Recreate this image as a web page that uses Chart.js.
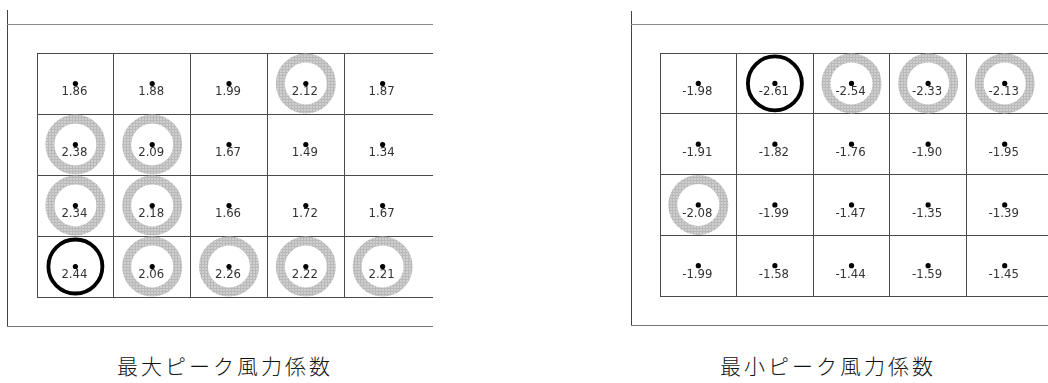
<!DOCTYPE html>
<html>
<head>
<meta charset="utf-8">
<script src="https://cdn.jsdelivr.net/npm/chart.js@4/dist/chart.umd.min.js"></script>
<style>
  html, body { margin: 0; padding: 0; background: #fff; }
  body { width: 1048px; height: 383px; position: relative; overflow: hidden; }
  .wrap { position: absolute; top: 0; height: 340px; }
  .ln { position: absolute; }
  .title { position: absolute; top: 351px; font-family: "Noto Sans CJK JP", sans-serif; font-weight: 300; font-size: 21px; letter-spacing: 3px; color: #111; white-space: nowrap; transform: translateX(-50%); line-height: 28px; }
</style>
</head>
<body>
<!-- left frame -->
<div class="ln" style="left:7px;top:10px;width:1px;height:317px;background:#444"></div>
<div class="ln" style="left:7px;top:24px;width:426px;height:1px;background:#8a8a8a"></div>
<div class="ln" style="left:7px;top:326px;width:426px;height:1px;background:#777"></div>
<!-- right frame -->
<div class="ln" style="left:631px;top:11px;width:1px;height:315px;background:#444"></div>
<div class="ln" style="left:631px;top:24px;width:417px;height:1px;background:#8a8a8a"></div>
<div class="ln" style="left:631px;top:325px;width:417px;height:1px;background:#777"></div>

<div class="wrap" style="left:0;width:440px"><canvas id="cMax"></canvas></div>
<div class="wrap" style="left:600px;width:448px"><canvas id="cMin"></canvas></div>

<div class="title" id="tMax" style="left:225px"></div>
<div class="title" id="tMin" style="left:828px"></div>

<script>
// ---- data ----
const titleMax = "最大ピーク風力係数";
const titleMin = "最小ピーク風力係数";

// rows listed top to bottom, columns left to right
const maxPeak = [
  [1.86, 1.88, 1.99, 2.12, 1.87],
  [2.38, 2.09, 1.67, 1.49, 1.34],
  [2.34, 2.18, 1.66, 1.72, 1.67],
  [2.44, 2.06, 2.26, 2.22, 2.21]
];
const minPeak = [
  [-1.98, -2.61, -2.54, -2.33, -2.13],
  [-1.91, -1.82, -1.76, -1.90, -1.95],
  [-2.08, -1.99, -1.47, -1.35, -1.39],
  [-1.99, -1.58, -1.44, -1.59, -1.45]
];
// highlighted cells [row, col]
const maxGrayRings = [[0,3],[1,0],[1,1],[2,0],[2,1],[3,1],[3,2],[3,3],[3,4]];
const maxBlackRings = [[3,0]];
const minGrayRings = [[0,2],[0,3],[0,4],[2,0]];
const minBlackRings = [[0,1]];

document.getElementById('tMax').textContent = titleMax;
document.getElementById('tMin').textContent = titleMin;

// ring pattern (fine gray hatch)
function makePattern() {
  const c = document.createElement('canvas');
  c.width = 3; c.height = 3;
  const g = c.getContext('2d');
  g.fillStyle = '#cfcfcf'; g.fillRect(0,0,3,3);
  g.fillStyle = '#b9b9b9'; g.fillRect(0,0,3,1); g.fillRect(0,0,1,3);
  return g.createPattern(c, 'repeat');
}
const ringPattern = makePattern();

function cellPoints(table) {
  const pts = [];
  table.forEach((row, r) => row.forEach((v, c) => pts.push({x: c + 0.5, y: r + 0.5, v: v})));
  return pts;
}
function ringPoints(list, table) {
  return list.map(([r, c]) => ({x: c + 0.5, y: r + 0.5, v: table[r][c]}));
}

const labelPlugin = {
  id: 'cellLabels',
  afterDatasetsDraw(chart) {
    const ctx = chart.ctx;
    const meta = chart.getDatasetMeta(0);
    const data = chart.data.datasets[0].data;
    ctx.save();
    ctx.font = '13px "Liberation Sans Narrow", "DejaVu Sans Condensed", "Arial Narrow", sans-serif';
    ctx.fillStyle = '#333';
    ctx.textAlign = 'center';
    ctx.textBaseline = 'top';
    meta.data.forEach((el, i) => {
      ctx.fillText(data[i].v.toFixed(2), el.x - 1, el.y + 2);
    });
    ctx.restore();
  }
};

function gridColor(ctx) {
  return Number.isInteger(ctx.tick.value) ? '#4a4a4a' : 'rgba(0,0,0,0)';
}

function build(id, table, gray, black, xMax, pad) {
  new Chart(document.getElementById(id), {
    type: 'scatter',
    data: {
      datasets: [
        { data: cellPoints(table), pointRadius: 2.6, pointBackgroundColor: '#000', pointBorderWidth: 0, clip: false },
        { data: ringPoints(black, table), pointRadius: 27, pointBackgroundColor: 'rgba(0,0,0,0)', pointBorderColor: '#000', pointBorderWidth: 3.8, clip: false },
        { data: ringPoints(gray, table), pointRadius: 25.5, pointBackgroundColor: 'rgba(0,0,0,0)', pointBorderColor: ringPattern, pointBorderWidth: 9, clip: false }
      ]
    },
    options: {
      responsive: true,
      maintainAspectRatio: false,
      animation: false,
      events: [],
      layout: { padding: pad, autoPadding: false },
      plugins: { legend: { display: false }, tooltip: { enabled: false }, title: { display: false } },
      scales: {
        x: {
          type: 'linear', min: 0, max: xMax,
          ticks: { display: false, stepSize: 1 },
          grid: { color: gridColor, drawTicks: false, lineWidth: 1 },
          border: { display: false }
        },
        y: {
          type: 'linear', min: 0, max: 4, reverse: true,
          ticks: { display: false, stepSize: 1 },
          grid: { color: '#4a4a4a', drawTicks: false, lineWidth: 1 },
          border: { display: false }
        }
      }
    },
    plugins: [labelPlugin]
  });
}

build('cMax', maxPeak, maxGrayRings, maxBlackRings, 5.156, {left: 37, top: 53, right: 7, bottom: 43});
build('cMin', minPeak, minGrayRings, minBlackRings, 5.065, {left: 60, top: 53, right: 0, bottom: 44});
</script>
</body>
</html>
